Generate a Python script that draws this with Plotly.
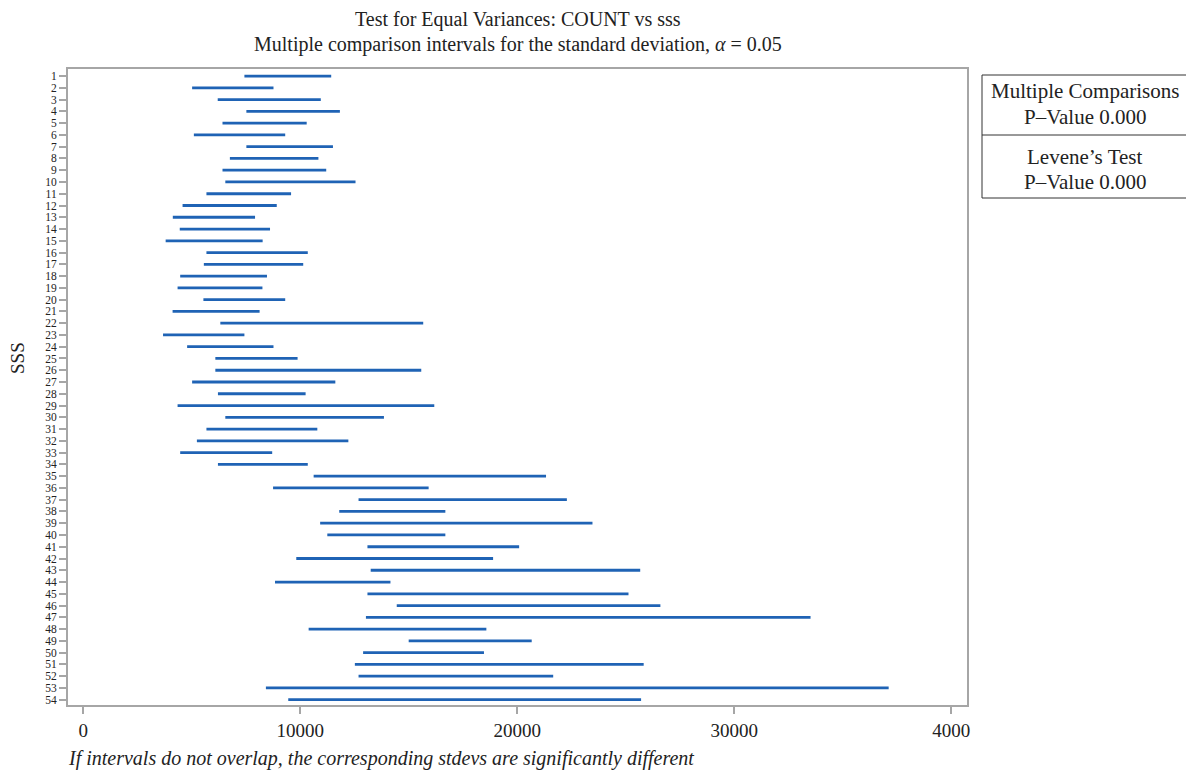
import plotly.graph_objects as go

# ---- data ----
groups = list(range(1, 55))
lower = [7430, 5020, 6200, 7520, 6420, 5100, 7520, 6760, 6420, 6550,
         5680, 4580, 4130, 4450, 3800, 5680, 5560, 4470, 4350, 5540,
         4120, 6320, 3680, 4790, 6090, 6090, 5020, 6210, 4350, 6550,
         5680, 5240, 4470, 6210, 10620, 8750, 12690, 11800, 10920, 11250,
         13100, 9820, 13250, 8840, 13100, 14450, 13030, 10390, 15000, 12900,
         12520, 12690, 8420, 9450]
upper = [11430, 8770, 10950, 11830, 10300, 9310, 11510, 10840, 11200, 12550,
         9580, 8920, 7920, 8610, 8270, 10350, 10140, 8470, 8260, 9310,
         8130, 15670, 7430, 8770, 9880, 15580, 11620, 10250, 16180, 13860,
         10790, 12220, 8710, 10350, 21330, 15920, 22290, 16690, 23470, 16690,
         20090, 18890, 25670, 14160, 25130, 26600, 33520, 18580, 20670, 18470,
         25830, 21660, 37120, 25710]
x_tickvals = [0, 10000, 20000, 30000, 40000]
x_ticktext = ["0", "10000", "20000", "30000", "4000"]

# ---- build interval segments ----
xs, ys = [], []
for g, lo, hi in zip(groups, lower, upper):
    xs += [lo, hi, None]
    ys += [g, g, None]

FONT = "Liberation Serif"
AX = "#a6a6a6"
BLUE = "#1f63b5"
TXT = "#222222"

fig = go.Figure()
fig.add_trace(go.Scatter(x=xs, y=ys, mode="lines",
                         line=dict(color=BLUE, width=2.8),
                         hoverinfo="skip", showlegend=False))

# page body has an 8px margin: shrink the figure so the plot area lands at the same pixels
fig.update_layout(
    width=1186, height=765,
    margin=dict(l=60, r=227, t=61, b=68),
    paper_bgcolor="white", plot_bgcolor="white",
    font=dict(family=FONT, color=TXT),
    showlegend=False,
)
fig.update_xaxes(range=[-700, 40730], tickvals=x_tickvals, ticktext=x_ticktext,
                 showgrid=False, zeroline=False, showline=True, mirror=True,
                 linecolor=AX, linewidth=2, ticks="outside", ticklen=7,
                 tickcolor=AX, tickwidth=2, tickfont=dict(size=19, family=FONT, color=TXT))
fig.update_yaxes(range=[54.45, 0.4], tickvals=groups,
                 ticktext=[str(g) for g in groups],
                 showgrid=False, zeroline=False, showline=True, mirror=True,
                 linecolor=AX, linewidth=2, ticks="outside", ticklen=7,
                 tickcolor=AX, tickwidth=1.5, tickfont=dict(size=11.5, family=FONT, color=TXT))


def ann(text, x, y, size, **kw):
    fig.add_annotation(text=text, x=x, y=y, xref="paper", yref="paper", showarrow=False,
                       xanchor=kw.pop("xanchor", "center"), yanchor="middle",
                       font=dict(size=size, family=FONT, color=TXT), **kw)


def py(p):  # page pixel y -> paper y
    return (705 - p) / 636


def px(p):  # page pixel x -> paper x
    return (p - 68) / 899


ann("Test for Equal Variances: COUNT vs sss", 0.5, py(19.5), 20)
ann("Multiple comparison intervals for the standard deviation, <i>α</i> = 0.05", 0.5, py(44), 20)
ann("SSS", px(18), py(358), 19, textangle=-90)
ann("<i>If intervals do not overlap, the corresponding stdevs are significantly different</i>",
    px(66), py(758), 20, xanchor="left")

# side box
fig.add_shape(type="rect", xref="paper", yref="paper", x0=px(982), x1=px(1200), y0=py(198), y1=py(75),
              line=dict(color="#333333", width=1), fillcolor="white")
fig.add_shape(type="line", xref="paper", yref="paper", x0=px(982), x1=px(1200), y0=py(135), y1=py(135),
              line=dict(color="#333333", width=1))
for txt, yp in [("Multiple Comparisons", 91), ("P–Value 0.000", 117),
                ("Levene’s Test", 157), ("P–Value 0.000", 182)]:
    ann(txt, px(1085), py(yp), 21)

fig.write_html("out.html")
